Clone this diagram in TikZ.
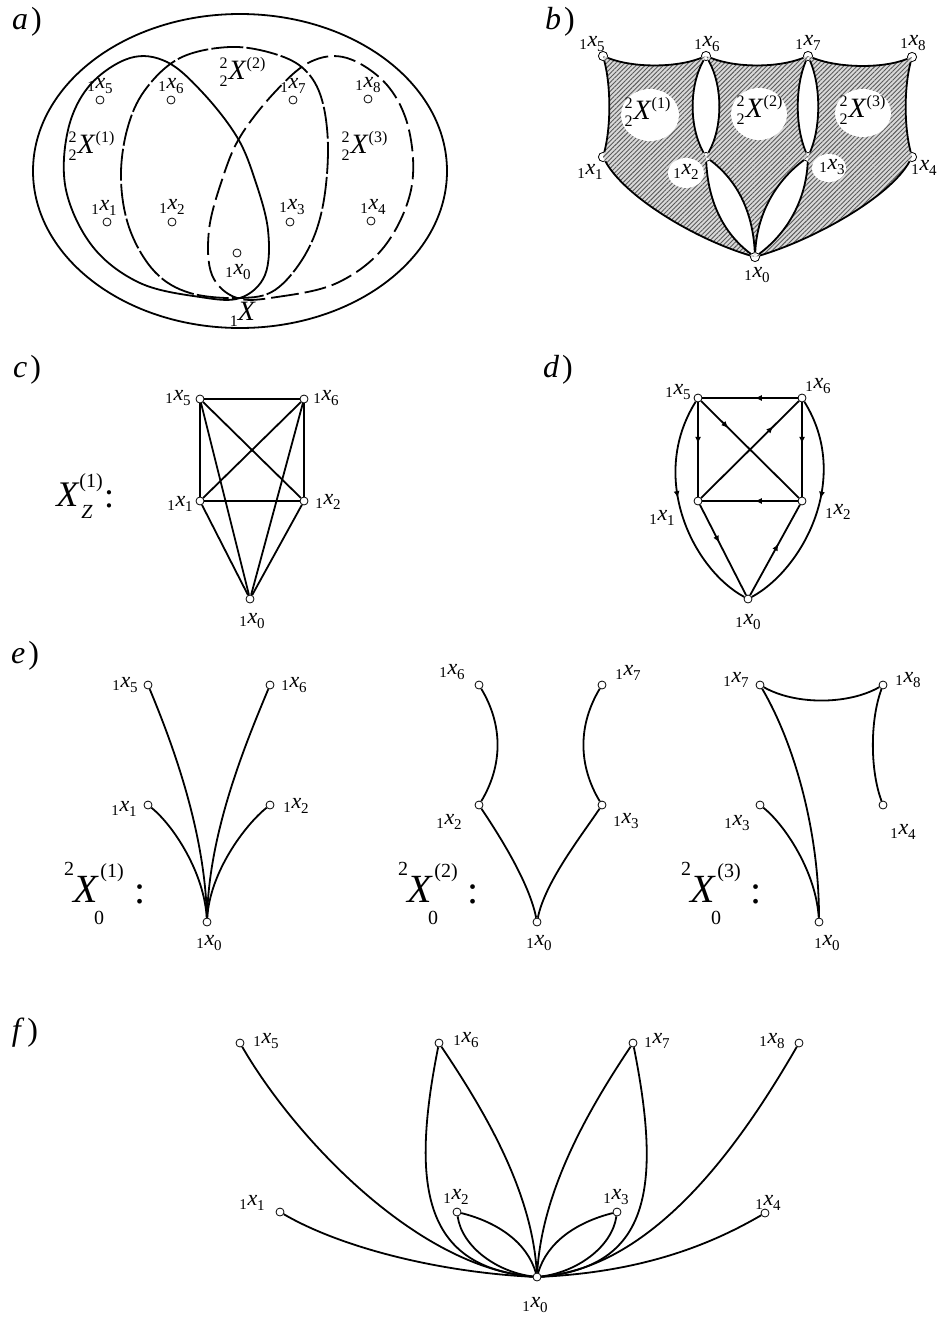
\documentclass[tikz,border=0pt]{standalone}
\usepackage{fontspec}
\setmainfont{Liberation Serif}
\usetikzlibrary{arrows.meta,decorations.markings,patterns.meta}
\newcommand{\lx}[1]{\raisebox{-0.35ex}{\fontsize{7.5}{8}\selectfont 1}\kern0.4pt\textit{x}\kern-0.2pt\raisebox{-0.5ex}{\fontsize{7.5}{8}\selectfont #1}}
\newcommand{\tX}[1]{$\mathord{}^{\mbox{\fontsize{8}{8}\selectfont 2}}_{\mbox{\fontsize{8}{8}\selectfont 2}}\mbox{\textit{X}}^{\mbox{\fontsize{8}{8}\selectfont(#1)}}$}
\newcommand{\pl}[1]{\textit{#1}\kern1.5pt)}
\tikzset{
  vtx/.style={circle,draw,fill=white,inner sep=0pt,minimum size=4pt,line width=0.4pt},
  bvtx/.style={circle,draw,fill=white,inner sep=0pt,minimum size=4.6pt,line width=0.4pt},
  lbl/.style={inner sep=0pt,font=\fontsize{11}{11}\selectfont},
  bigX/.style={inner sep=0pt,font=\fontsize{14}{14}\selectfont},
  hugeX/.style={inner sep=0pt,font=\fontsize{20}{20}\selectfont},
  cX/.style={inner sep=0pt,font=\fontsize{18}{18}\selectfont},
  small/.style={inner sep=0pt,font=\fontsize{10}{10}\selectfont},
  plab/.style={inner sep=0pt,font=\fontsize{16}{16}\selectfont},
  edge/.style={line width=0.9pt},
  sqedge/.style={line width=1.3pt},
  curve/.style={line width=0.9pt},
  dashA/.style={line width=0.9pt,dash pattern=on 16pt off 1.6pt},
  dashB/.style={line width=0.9pt,dash pattern=on 11pt off 3pt},
  hatch/.style={fill=gray!30},
  hatchlines/.style={pattern={Lines[angle=45,distance=1.6pt,line width=0.45pt]},pattern color=gray!70!black},
  arr/.style={postaction={decorate},decoration={markings,mark=at position #1 with {\arrow{Latex[length=3.5pt,width=3pt]}}}}
}
\begin{document}
\begin{tikzpicture}[x=0.5pt,y=-0.5pt]
\useasboundingbox (0,0) rectangle (945,1317);

% ================= a) =================
\node[plab] (pa) at (27,22) {\pl{a}};
\draw[curve] (240,171) ellipse (207 and 157);
% X^(1) solid
\draw[curve] plot[smooth cycle,tension=0.6] coordinates {(240,298) (200,297) (140,283) (93,247) (66,190) (68,130) (90,85) (130,58) (167,62) (203,93) (237,137) (255,180) (268,230) (265,275)};
% X^(3) long dashes
\draw[dashB] plot[smooth cycle,tension=0.6] coordinates {(237,298) (277,297) (337,283) (384,247) (411,190) (409,130) (387,85) (347,58) (310,62) (274,93) (240,137) (222,180) (209,230) (212,275)};
% X^(2) middle oval
\draw[dashA] plot[smooth cycle,tension=0.6] coordinates {(240,298) (190,293) (155,272) (130,230) (121,180) (127,130) (145,90) (180,58) (230,47) (275,54) (305,70) (322,100) (328,150) (322,210) (305,255) (275,290)};
\node[vtx] (a5) at (100,100) {};
\node[vtx] (a6) at (171,100) {};
\node[vtx] (a7) at (293,100) {};
\node[vtx] (a8) at (368,99) {};
\node[vtx] (a1) at (107,222) {};
\node[vtx] (a2) at (172,222) {};
\node[vtx] (a3) at (290,222) {};
\node[vtx] (a4) at (371,221) {};
\node[vtx] (a0) at (237,253) {};
\node[lbl] (la5) at (100,86) {\lx{5}};
\node[lbl] (la6) at (171,86) {\lx{6}};
\node[lbl] (la7) at (293,86) {\lx{7}};
\node[lbl] (la8) at (368,85) {\lx{8}};
\node[lbl] (la1) at (104,208) {\lx{1}};
\node[lbl] (la2) at (172,207) {\lx{2}};
\node[lbl] (la3) at (292,207) {\lx{3}};
\node[lbl] (la4) at (373,207) {\lx{4}};
\node[lbl] (la0) at (238,272) {\lx{0}};
\node[bigX] (aX2) at (243,72) {\tX{2}};
\node[bigX] (aX1) at (92,146) {\tX{1}};
\node[bigX] (aX3) at (365,146) {\tX{3}};
\node[bigX] (aX) at (243,314) {\raisebox{-0.45ex}{\fontsize{8}{8}\selectfont 1}\textit{X}};

% ================= b) =================
\node[plab] (pb) at (560,22) {\pl{b}};
\node[bvtx] (b5) at (603,56) {};
\node[bvtx] (b6) at (706,56) {};
\node[bvtx] (b7) at (808,56) {};
\node[bvtx] (b8) at (912,57) {};
\node[bvtx] (b1) at (603,157) {};
\node[bvtx] (b2) at (706,157) {};
\node[bvtx] (b3) at (808,157) {};
\node[bvtx] (b4) at (912,157) {};
\node[bvtx] (b0) at (755,257) {};
% region 1
\path[hatch] (b5.center) .. controls +(30,12) and +(-30,12) .. (b6.center)
  .. controls +(-17,30) and +(-17,-30) .. (b2.center)
  .. controls +(2,42) and +(-33.5,-25) .. (b0.center)
  .. controls +(-60,-18) and +(22,40) .. (b1.center)
  .. controls +(8,-30) and +(8,30) .. (b5.center) -- cycle;
\path[hatchlines] (b5.center) .. controls +(30,12) and +(-30,12) .. (b6.center)
  .. controls +(-17,30) and +(-17,-30) .. (b2.center)
  .. controls +(2,42) and +(-33.5,-25) .. (b0.center)
  .. controls +(-60,-18) and +(22,40) .. (b1.center)
  .. controls +(8,-30) and +(8,30) .. (b5.center) -- cycle;
% region 2
\path[hatch] (b6.center) .. controls +(30,12) and +(-30,12) .. (b7.center)
  .. controls +(-13,30) and +(-13,-30) .. (b3.center)
  .. controls +(-33.5,25) and +(2,-42) .. (b0.center)
  .. controls +(-2,-42) and +(33.5,25) .. (b2.center)
  .. controls +(17,-30) and +(17,30) .. (b6.center) -- cycle;
\path[hatchlines] (b6.center) .. controls +(30,12) and +(-30,12) .. (b7.center)
  .. controls +(-13,30) and +(-13,-30) .. (b3.center)
  .. controls +(-33.5,25) and +(2,-42) .. (b0.center)
  .. controls +(-2,-42) and +(33.5,25) .. (b2.center)
  .. controls +(17,-30) and +(17,30) .. (b6.center) -- cycle;
% region 3
\path[hatch] (b7.center) .. controls +(30,12) and +(-30,12) .. (b8.center)
  .. controls +(-8,30) and +(-8,-30) .. (b4.center)
  .. controls +(-22,40) and +(60,-18) .. (b0.center)
  .. controls +(33.5,-25) and +(-2,42) .. (b3.center)
  .. controls +(13,-30) and +(13,30) .. (b7.center) -- cycle;
\path[hatchlines] (b7.center) .. controls +(30,12) and +(-30,12) .. (b8.center)
  .. controls +(-8,30) and +(-8,-30) .. (b4.center)
  .. controls +(-22,40) and +(60,-18) .. (b0.center)
  .. controls +(33.5,-25) and +(-2,42) .. (b3.center)
  .. controls +(13,-30) and +(13,30) .. (b7.center) -- cycle;
\fill[white] (650,115) ellipse (29 and 26);
\fill[white] (759,114) ellipse (28 and 26);
\fill[white] (863,113) ellipse (28 and 24);
\fill[white] (686,173) ellipse (18 and 15);
\fill[white] (829,168) ellipse (17 and 14);
\draw[edge] (b5) .. controls +(30,12) and +(-30,12) .. (b6);
\draw[edge] (b6) .. controls +(30,12) and +(-30,12) .. (b7);
\draw[edge] (b7) .. controls +(30,12) and +(-30,12) .. (b8);
\draw[edge] (b5) .. controls +(8,30) and +(8,-30) .. (b1);
\draw[edge] (b8) .. controls +(-8,30) and +(-8,-30) .. (b4);
\draw[edge] (b6) .. controls +(-17,30) and +(-17,-30) .. (b2);
\draw[edge] (b6) .. controls +(17,30) and +(17,-30) .. (b2);
\draw[edge] (b7) .. controls +(-13,30) and +(-13,-30) .. (b3);
\draw[edge] (b7) .. controls +(13,30) and +(13,-30) .. (b3);
\draw[edge] (b2) .. controls +(2,42) and +(-33.5,-25) .. (b0);
\draw[edge] (b2) .. controls +(33.5,25) and +(-2,-42) .. (b0);
\draw[edge] (b3) .. controls +(-33.5,25) and +(2,-42) .. (b0);
\draw[edge] (b3) .. controls +(-2,42) and +(33.5,-25) .. (b0);
\draw[edge] (b1) .. controls +(22,40) and +(-60,-18) .. (b0);
\draw[edge] (b4) .. controls +(-22,40) and +(60,-18) .. (b0);
\node[bigX] (bX1) at (648,112) {\tX{1}};
\node[bigX] (bX2) at (760,110) {\tX{2}};
\node[bigX] (bX3) at (863,110) {\tX{3}};
\node[lbl] (lb5) at (592,44) {\lx{5}};
\node[lbl] (lb6) at (707,44) {\lx{6}};
\node[lbl] (lb7) at (808,43) {\lx{7}};
\node[lbl] (lb8) at (913,43) {\lx{8}};
\node[lbl] (lb1) at (590,172) {\lx{1}};
\node[lbl] (lb2) at (686,172) {\lx{2}};
\node[lbl] (lb3) at (832,167) {\lx{3}};
\node[lbl] (lb4) at (924,168) {\lx{4}};
\node[lbl] (lb0) at (757,275) {\lx{0}};

% ================= c) =================
\node[plab] (pc) at (27,370) {\pl{c}};
\node[vtx] (c5) at (200,399) {};
\node[vtx] (c6) at (304,399) {};
\node[vtx] (c1) at (200,501) {};
\node[vtx] (c2) at (304,501) {};
\node[vtx] (c0) at (250,599) {};
\draw[sqedge] (c5) -- (c6);
\draw[sqedge] (c6) -- (c2);
\draw[sqedge] (c2) -- (c1);
\draw[sqedge] (c1) -- (c5);
\draw[edge] (c5) -- (c2);
\draw[edge] (c6) -- (c1);
\draw[edge] (c5) -- (c0);
\draw[edge] (c6) -- (c0);
\draw[edge] (c1) -- (c0);
\draw[edge] (c2) -- (c0);
\node[lbl] (lc5) at (178,398) {\lx{5}};
\node[lbl] (lc6) at (326,398) {\lx{6}};
\node[lbl] (lc1) at (180,504) {\lx{1}};
\node[lbl] (lc2) at (328,502) {\lx{2}};
\node[lbl] (lc0) at (252,621) {\lx{0}};
\node[cX] (cXm) at (68,495) {\textit{X}};
\node[small] (cXs) at (91,483) {(1)};
\node[small] (cXz) at (87,512) {\textit{Z}};
\node[cX] (cXc) at (109,499) {:};

% ================= d) =================
\node[plab] (pd) at (558,370) {\pl{d}};
\node[vtx] (d5) at (698,398) {};
\node[vtx] (d6) at (802,398) {};
\node[vtx] (d1) at (698,501) {};
\node[vtx] (d2) at (802,501) {};
\node[vtx] (d0) at (748,599) {};
\draw[sqedge,arr=0.45] (d6) -- (d5);
\draw[sqedge,arr=0.44] (d5) -- (d1);
\draw[sqedge,arr=0.44] (d6) -- (d2);
\draw[sqedge,arr=0.45] (d2) -- (d1);
\draw[edge,arr=0.28] (d5) -- (d2);
\draw[edge,arr=0.74] (d1) -- (d6);
\draw[edge,arr=0.42] (d1) -- (d0);
\draw[edge,arr=0.57] (d0) -- (d2);
\draw[edge,arr=0.45] (d5) .. controls +(-50,80) and +(-55,-30) .. (d0);
\draw[edge,arr=0.45] (d6) .. controls +(50,80) and +(55,-30) .. (d0);
\node[lbl] (ld5) at (678,392) {\lx{5}};
\node[lbl] (ld6) at (818,386) {\lx{6}};
\node[lbl] (ld1) at (662,518) {\lx{1}};
\node[lbl] (ld2) at (838,512) {\lx{2}};
\node[lbl] (ld0) at (748,622) {\lx{0}};

% ================= e) =================
\node[plab] (pe) at (25,656) {\pl{e}};
% e1
\node[vtx] (e15) at (148,685) {};
\node[vtx] (e16) at (270,685) {};
\node[vtx] (e11) at (148,805) {};
\node[vtx] (e12) at (270,805) {};
\node[vtx] (e10) at (207,922) {};
\draw[edge] (e15) .. controls +(25,60) and +(-2,-90) .. (e10);
\draw[edge] (e16) .. controls +(-25,60) and +(2,-90) .. (e10);
\draw[edge] (e11) .. controls +(25,20) and +(-3,-50) .. (e10);
\draw[edge] (e12) .. controls +(-25,20) and +(3,-50) .. (e10);
\node[lbl] (le15) at (125,685) {\lx{5}};
\node[lbl] (le16) at (294,685) {\lx{6}};
\node[lbl] (le11) at (124,809) {\lx{1}};
\node[lbl] (le12) at (296,806) {\lx{2}};
\node[lbl] (le10) at (209,943) {\lx{0}};
\node[hugeX] (eX1) at (86,889) {\textit{X}};
\node[small] (eX1a) at (69,869) {2};
\node[small] (eX1b) at (112,873) {(1)};
\node[small] (eX1c) at (99,918) {0};
\node[hugeX] (eX1d) at (140,894) {:};
% e2
\node[vtx] (e26) at (479,685) {};
\node[vtx] (e27) at (602,685) {};
\node[vtx] (e22) at (479,805) {};
\node[vtx] (e23) at (602,805) {};
\node[vtx] (e20) at (537,922) {};
\draw[edge] (e26) .. controls +(24,40) and +(24,-40) .. (e22);
\draw[edge] (e27) .. controls +(-24,40) and +(-24,-40) .. (e23);
\draw[edge] (e22) .. controls +(20,30) and +(-8,-40) .. (e20);
\draw[edge] (e23) .. controls +(-20,30) and +(8,-40) .. (e20);
\node[lbl] (le26) at (452,672) {\lx{6}};
\node[lbl] (le27) at (628,673) {\lx{7}};
\node[lbl] (le22) at (449,822) {\lx{2}};
\node[lbl] (le23) at (626,821) {\lx{3}};
\node[lbl] (le20) at (539,943) {\lx{0}};
\node[hugeX] (eX2) at (420,889) {\textit{X}};
\node[small] (eX2a) at (403,869) {2};
\node[small] (eX2b) at (446,873) {(2)};
\node[small] (eX2c) at (433,918) {0};
\node[hugeX] (eX2d) at (473,894) {:};
% e3
\node[vtx] (e37) at (760,685) {};
\node[vtx] (e38) at (883,685) {};
\node[vtx] (e33) at (760,805) {};
\node[vtx] (e34) at (883,805) {};
\node[vtx] (e30) at (819,922) {};
\draw[edge] (e37) .. controls +(35,20) and +(-35,20) .. (e38);
\draw[edge] (e38) .. controls +(-13,35) and +(-13,-35) .. (e34);
\draw[edge] (e37) .. controls +(35,60) and +(0,-90) .. (e30);
\draw[edge] (e33) .. controls +(25,20) and +(-3,-50) .. (e30);
\node[lbl] (le37) at (736,680) {\lx{7}};
\node[lbl] (le38) at (908,680) {\lx{8}};
\node[lbl] (le33) at (737,823) {\lx{3}};
\node[lbl] (le34) at (903,832) {\lx{4}};
\node[lbl] (le30) at (827,943) {\lx{0}};
\node[hugeX] (eX3) at (703,889) {\textit{X}};
\node[small] (eX3a) at (686,869) {2};
\node[small] (eX3b) at (729,873) {(3)};
\node[small] (eX3c) at (716,918) {0};
\node[hugeX] (eX3d) at (756,894) {:};

% ================= f) =================
\node[plab] (pf) at (25,1033) {\pl{f}};
\node[vtx] (f5) at (240,1043) {};
\node[vtx] (f6) at (439,1043) {};
\node[vtx] (f7) at (633,1043) {};
\node[vtx] (f8) at (799,1043) {};
\node[vtx] (f1) at (280,1212) {};
\node[vtx] (f2) at (457,1212) {};
\node[vtx] (f3) at (617,1212) {};
\node[vtx] (f4) at (765,1213) {};
\node[vtx] (f0) at (537,1277) {};
\draw[edge] (f5) .. controls +(55,95) and +(-120,-10) .. (f0);
\draw[edge] (f8) .. controls +(-55,95) and +(120,-10) .. (f0);
\draw[edge] (f1) .. controls +(60,35) and +(-100,-5) .. (f0);
\draw[edge] (f4) .. controls +(-60,35) and +(100,-5) .. (f0);
\draw[edge] (f6) .. controls +(-30,150) and +(-110,-10) .. (f0);
\draw[edge] (f6) .. controls +(40,60) and +(-5,-90) .. (f0);
\draw[edge] (f7) .. controls +(-40,60) and +(5,-90) .. (f0);
\draw[edge] (f7) .. controls +(30,150) and +(110,-10) .. (f0);
\draw[edge] (f2) .. controls +(40,10) and +(-10,-35) .. (f0);
\draw[edge] (f2) .. controls +(5,35) and +(-40,-5) .. (f0);
\draw[edge] (f3) .. controls +(-40,10) and +(10,-35) .. (f0);
\draw[edge] (f3) .. controls +(-5,35) and +(40,-5) .. (f0);
\node[lbl] (lf5) at (266,1041) {\lx{5}};
\node[lbl] (lf6) at (466,1040) {\lx{6}};
\node[lbl] (lf7) at (657,1041) {\lx{7}};
\node[lbl] (lf8) at (772,1041) {\lx{8}};
\node[lbl] (lf1) at (252,1203) {\lx{1}};
\node[lbl] (lf2) at (456,1197) {\lx{2}};
\node[lbl] (lf3) at (616,1197) {\lx{3}};
\node[lbl] (lf4) at (768,1203) {\lx{4}};
\node[lbl] (lf0) at (535,1305) {\lx{0}};
\end{tikzpicture}
\end{document}
